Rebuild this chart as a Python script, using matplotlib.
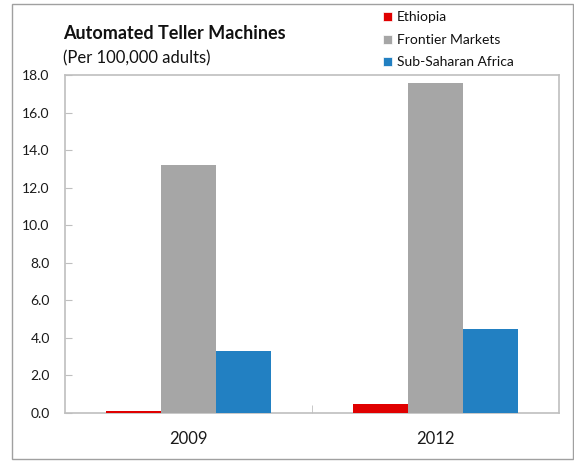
import numpy as np
import matplotlib
matplotlib.use("Agg")
import matplotlib.pyplot as plt
from matplotlib.patches import Rectangle

plt.rcParams["font.family"] = ["Lato", "DejaVu Sans"]

years = ["2009", "2012"]
series_names = ["Ethiopia", "Frontier Markets", "Sub-Saharan Africa"]
ethiopia = [0.1, 0.5]
frontier = [13.2, 17.6]
ssa = [3.3, 4.5]
colors = ["#E00000", "#A6A6A6", "#2280C2"]

W, H = 574, 461
fig = plt.figure(figsize=(W / 100, H / 100), dpi=100)

# outer border around the whole exhibit
fig.patches.append(Rectangle((12 / W, 2 / H), 561 / W, 455 / H,
                             transform=fig.transFigure, fill=False,
                             edgecolor="#A0A0A0", linewidth=1.0))

ax = fig.add_axes([65 / W, 48 / H, 494 / W, 338 / H])

x = np.arange(len(years))
width = 0.2227
for i, vals in enumerate([ethiopia, frontier, ssa]):
    ax.bar(x + (i - 1) * width, vals, width * 0.985, color=colors[i],
           linewidth=0, zorder=3)

ax.set_xlim(-0.5, 1.5)
ax.set_ylim(0, 18)
yt = np.arange(0, 18.1, 2)
ax.set_yticks(yt)
ax.set_yticklabels([f"{v:.1f}" for v in yt], fontsize=10, color="#1A1A1A")
ax.set_xticks(x)
ax.set_xticklabels(years, fontsize=12, color="#1A1A1A")
ax.tick_params(axis="x", length=0, pad=13)
ax.set_xticks([0.5], minor=True)
ax.tick_params(axis="x", which="minor", direction="in", length=6, color="#BFBFBF")
ax.tick_params(axis="y", direction="in", length=5, color="#BFBFBF", pad=11)

for side in ax.spines:
    ax.spines[side].set_color("#BFBFBF")
    ax.spines[side].set_linewidth(1.2)

fig.text(63 / W, 1 - 33 / H, "Automated Teller Machines", fontsize=13,
         fontweight="bold", va="center", ha="left", color="#111111")
fig.text(63 / W, 1 - 58 / H, "(Per 100,000 adults)", fontsize=12,
         va="center", ha="left", color="#111111")

# legend: small colour squares with labels, stacked top right
for i, name in enumerate(series_names):
    yc = 17 + i * 22.5
    fig.patches.append(Rectangle((383 / W, 1 - (yc + 4.5) / H), 9 / W, 9 / H,
                                 transform=fig.transFigure, facecolor=colors[i],
                                 edgecolor="white", linewidth=0.5))
    fig.text(397 / W, 1 - yc / H, name, fontsize=10, va="center", ha="left",
             color="#111111")

fig.savefig("out.png", dpi=100)
